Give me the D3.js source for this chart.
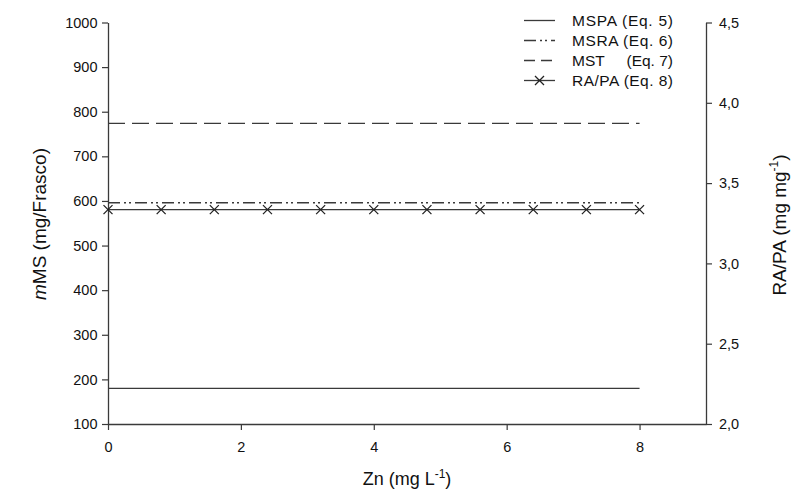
<!DOCTYPE html>
<html><head><meta charset="utf-8">
<script src="https://cdn.jsdelivr.net/npm/d3@7"></script>
<style>body{margin:0;background:#fff}svg{display:block}text{font-family:"Liberation Sans",Arial,sans-serif;fill:#111}</style>
</head><body>
<svg id="c" width="792" height="495"></svg>
<script>
const xLine = [0, 8];
const mspa = [180, 180];
const msra = [596, 596];
const mst = [774, 774];
const raX = [0, 0.8, 1.6, 2.4, 3.2, 4.0, 4.8, 5.6, 6.4, 7.2, 8.0];
const raPa = [3.335, 3.335, 3.335, 3.335, 3.335, 3.335, 3.335, 3.335, 3.335, 3.335, 3.335];
const xTicks = [0, 2, 4, 6, 8];
const yLeftTicks = [100, 200, 300, 400, 500, 600, 700, 800, 900, 1000];
const yRightTicks = [2.0, 2.5, 3.0, 3.5, 4.0, 4.5];
const legendLabels = [["MSPA", "(Eq. 5)"], ["MSRA", "(Eq. 6)"], ["MST", "(Eq. 7)"], ["RA/PA", "(Eq. 8)"]];

const svg = d3.select("#c");
const L = 108, R = 706, T = 22.5, B = 424;
const x = d3.scaleLinear().domain([0, 9]).range([L, R]);
const yL = d3.scaleLinear().domain([100, 1000]).range([B, T]);
const yR = d3.scaleLinear().domain([2, 4.5]).range([B, T]);
const col = "#3a3a3a";
const FS = 14.5;

function styleAxis(g){
  g.selectAll("path").attr("stroke", col).attr("stroke-width", 1.3);
  g.selectAll("line").attr("stroke", col).attr("stroke-width", 1.2);
  g.selectAll("text").attr("font-size", FS).attr("font-family", '"Liberation Sans",Arial,sans-serif').attr("fill", "#111");
}
svg.append("g").attr("transform", `translate(0,${B})`)
  .call(d3.axisBottom(x).tickValues(xTicks).tickSize(6).tickPadding(12).tickSizeOuter(0).tickFormat(d3.format("d")))
  .call(styleAxis);
svg.append("g").attr("transform", `translate(${L},0)`)
  .call(d3.axisLeft(yL).tickValues(yLeftTicks).tickSize(6).tickPadding(4.5).tickSizeOuter(0).tickFormat(d3.format("d")))
  .call(styleAxis);
svg.append("g").attr("transform", `translate(${R},0)`)
  .call(d3.axisRight(yR).tickValues(yRightTicks).tickSize(6).tickPadding(7).tickSizeOuter(0).tickFormat(d => d3.format(".1f")(d).replace(".", ",")))
  .call(styleAxis);

const line = d3.line().x(d => x(d[0])).y(d => d[1]);
function drawLine(vals, dash){
  svg.append("path")
    .attr("d", line(xLine.map((xv, i) => [xv, yL(vals[i])])))
    .attr("fill", "none").attr("stroke", col).attr("stroke-width", 1.3)
    .attr("stroke-dasharray", dash);
}
drawLine(mspa, null);
drawLine(msra, "12,4,2,3,2,4");
drawLine(mst, "17,7");
svg.append("path")
  .attr("d", d3.line().x((d, i) => x(raX[i])).y(d => yR(d))(raPa))
  .attr("fill", "none").attr("stroke", col).attr("stroke-width", 1.3);
const s = 4.5;
raX.forEach((xv, i) => {
  const cx = x(xv), cy = yR(raPa[i]);
  svg.append("path").attr("d", `M${cx-s},${cy-s}L${cx+s},${cy+s}M${cx-s},${cy+s}L${cx+s},${cy-s}`)
    .attr("stroke", "#222").attr("stroke-width", 1.3);
});

// legend
const lg = svg.append("g");
legendLabels.forEach((lab, i) => {
  const yy = 20.5 + i * 20;
  lg.append("line").attr("x1", 524).attr("x2", 555).attr("y1", yy).attr("y2", yy)
    .attr("stroke", col).attr("stroke-width", 1.3).attr("stroke-dasharray", i === 1 ? "12,4,2,3,2,4" : (i === 2 ? "11,6" : null));
  if (i === 3) {
    lg.append("path").attr("d", `M${539.5-s},${yy-s}L${539.5+s},${yy+s}M${539.5-s},${yy+s}L${539.5+s},${yy-s}`)
      .attr("stroke", "#222").attr("stroke-width", 1.3);
  }
  if (i === 2) {
    lg.append("text").attr("x", 572).attr("y", yy + 5.5).attr("font-size", 15.5).text(lab[0]);
    lg.append("text").attr("x", 673).attr("y", yy + 5.5).attr("font-size", 15.5).attr("text-anchor", "end").text(lab[1]);
  } else {
    lg.append("text").attr("x", 572).attr("y", yy + 5.5).attr("font-size", 15.5).attr("textLength", 101).text(lab[0] + " " + lab[1]);
  }
});

// axis titles
const lt = svg.append("text").attr("transform", "translate(46,224) rotate(-90)").attr("text-anchor", "middle").attr("font-size", 19);
lt.append("tspan").attr("font-style", "italic").text("m");
lt.append("tspan").text("MS (mg/Frasco)");
const rt = svg.append("text").attr("transform", "translate(786,225) rotate(-90)").attr("text-anchor", "middle").attr("font-size", 19);
rt.append("tspan").text("RA/PA (mg mg");
rt.append("tspan").attr("dy", -8).attr("font-size", 12).text("-1");
rt.append("tspan").attr("dy", 8).text(")");
const xt = svg.append("text").attr("x", 407).attr("y", 485).attr("text-anchor", "middle").attr("font-size", 18);
xt.append("tspan").text("Zn (mg L");
xt.append("tspan").attr("dy", -7).attr("font-size", 12).text("-1");
xt.append("tspan").attr("dy", 7).text(")");
</script>
</body></html>
